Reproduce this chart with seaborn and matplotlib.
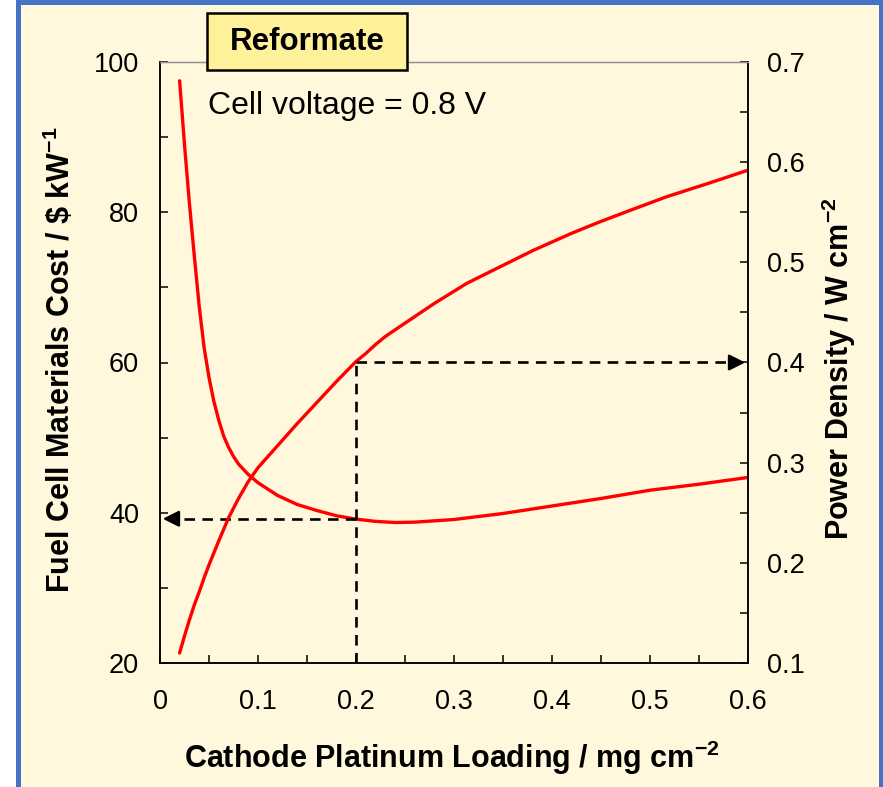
import matplotlib
matplotlib.use("Agg")
import matplotlib.pyplot as plt
from matplotlib.patches import Rectangle
from matplotlib.ticker import MultipleLocator
import seaborn as sns

# values
cost_loading = [0.02, 0.025, 0.03, 0.035, 0.04, 0.045, 0.05, 0.055, 0.06, 0.065,
                0.07, 0.075, 0.08, 0.09, 0.10, 0.12, 0.14, 0.16, 0.18, 0.20,
                0.22, 0.24, 0.26, 0.30, 0.35, 0.40, 0.45, 0.50, 0.55, 0.60]
cost = [97.5, 89.0, 81.2, 74.2, 67.5, 62.0, 58.0, 54.8, 52.3, 50.2,
        48.7, 47.5, 46.5, 45.1, 44.0, 42.3, 41.1, 40.3, 39.6, 39.15,
        38.85, 38.7, 38.75, 39.1, 39.9, 40.9, 41.9, 43.0, 43.8, 44.7]

power_loading = [0.02, 0.025, 0.03, 0.035, 0.04, 0.045, 0.05, 0.055, 0.06, 0.07,
                 0.08, 0.09, 0.10, 0.12, 0.14, 0.16, 0.18, 0.19, 0.20, 0.21,
                 0.22, 0.23, 0.245, 0.28, 0.313, 0.35, 0.381, 0.42, 0.449, 0.48,
                 0.517, 0.56, 0.60]
power = [0.110, 0.127, 0.143, 0.158, 0.171, 0.185, 0.198, 0.210, 0.222, 0.245,
         0.264, 0.281, 0.295, 0.317, 0.339, 0.360, 0.381, 0.391, 0.401, 0.409,
         0.418, 0.426, 0.436, 0.459, 0.479, 0.497, 0.512, 0.529, 0.5405, 0.552,
         0.5655, 0.579, 0.592]

chosen_loading = 0.2
chosen_power = 0.4
chosen_cost = 39.2

bg = "#FFF8DC"

sns.set_theme(style="ticks")
plt.rcParams["font.family"] = ["Liberation Sans", "DejaVu Sans"]
plt.rcParams["mathtext.default"] = "regular"
plt.rcParams["text.color"] = "black"
plt.rcParams["axes.labelcolor"] = "black"

fig = plt.figure(figsize=(8.83, 7.87), dpi=100)
fig.patch.set_facecolor("white")
W, H = 883, 787

# yellow panel with blue frame
fig.add_artist(Rectangle((17.5 / W, -10 / H), 863 / W, 795.5 / H,
                         transform=fig.transFigure, facecolor=bg,
                         edgecolor="#4472C4", lw=3.6, zorder=-1))

ax = fig.add_axes([160 / W, 1 - 663 / H, 588 / W, 601 / H])
ax.set_facecolor(bg)
ax2 = ax.twinx()

sns.lineplot(x=cost_loading, y=cost, ax=ax, color="#FF0000", lw=2.4)
sns.lineplot(x=power_loading, y=power, ax=ax2, color="#FF0000", lw=2.4)

ax.set_xlim(0, 0.6)
ax.set_ylim(20, 100)
ax2.set_ylim(0.1, 0.7)

# dashed guide lines
dash = dict(color="black", lw=1.9, ls=(0, (4, 2.8)))
ax.plot([chosen_loading, chosen_loading], [20, 60], **dash)
ax.plot([chosen_loading, 0.012], [chosen_cost, chosen_cost], **dash)
ax2.plot([chosen_loading, 0.588], [chosen_power, chosen_power], **dash)
head = dict(arrowstyle="-|>", color="black", lw=1.8, mutation_scale=24)
ax.annotate("", xy=(0.0, chosen_cost), xytext=(0.02, chosen_cost), arrowprops=head)
ax2.annotate("", xy=(0.6, chosen_power), xytext=(0.58, chosen_power), arrowprops=head)

# ticks
ax.xaxis.set_minor_locator(MultipleLocator(0.05))
ax.yaxis.set_major_locator(MultipleLocator(20))
ax.yaxis.set_minor_locator(MultipleLocator(10))
ax2.yaxis.set_minor_locator(MultipleLocator(0.05))
ax.set_xticks([0, 0.1, 0.2, 0.3, 0.4, 0.5, 0.6], ["0", "0.1", "0.2", "0.3", "0.4", "0.5", "0.6"])
ax2.set_yticks([0.1, 0.2, 0.3, 0.4, 0.5, 0.6, 0.7], ["0.1", "0.2", "0.3", "0.4", "0.5", "0.6", "0.7"])
ax.tick_params(axis="x", which="both", direction="in", length=6, width=1.1, labelsize=19.5, pad=19, colors="black")
ax.tick_params(axis="y", which="both", direction="in", length=6, width=1.1, labelsize=19.5, pad=15, colors="black")
ax2.tick_params(axis="y", which="both", direction="in", length=6, width=1.1, labelsize=19.5, pad=14, colors="black")

for a in (ax, ax2):
    for s in a.spines.values():
        s.set_linewidth(1.1)
        s.set_color("black")
    a.spines["top"].set_color("#909090")
    a.spines["top"].set_linewidth(0.9)

ax.set_xlabel("Cathode Platinum Loading / mg cm$^{-2}$", fontsize=22, fontweight="bold", color="black")
ax.set_ylabel("Fuel Cell Materials Cost / \\$ kW$^{-1}$", fontsize=22, fontweight="bold", color="black")
ax2.set_ylabel("Power Density / W cm$^{-2}$", fontsize=22, fontweight="bold", color="black")
ax.xaxis.set_label_coords(0.497, -0.126)
ax.yaxis.set_label_coords(-0.142, 0.505)
ax2.yaxis.set_label_coords(1.122, 0.49)

ax.text(0.049, 94.1, "Cell voltage = 0.8 V", fontsize=23, va="center", ha="left")

# "Reformate" label box
fig.add_artist(Rectangle((207 / W, 1 - 70 / H), 200 / W, 57 / H,
                         transform=fig.transFigure, facecolor="#FFF199",
                         edgecolor="black", lw=1.8, zorder=5))
fig.text(307 / W, 1 - 42 / H, "Reformate", fontsize=22.5, fontweight="bold",
         ha="center", va="center", zorder=6)

fig.savefig("out.png", dpi=100, facecolor=fig.get_facecolor())
